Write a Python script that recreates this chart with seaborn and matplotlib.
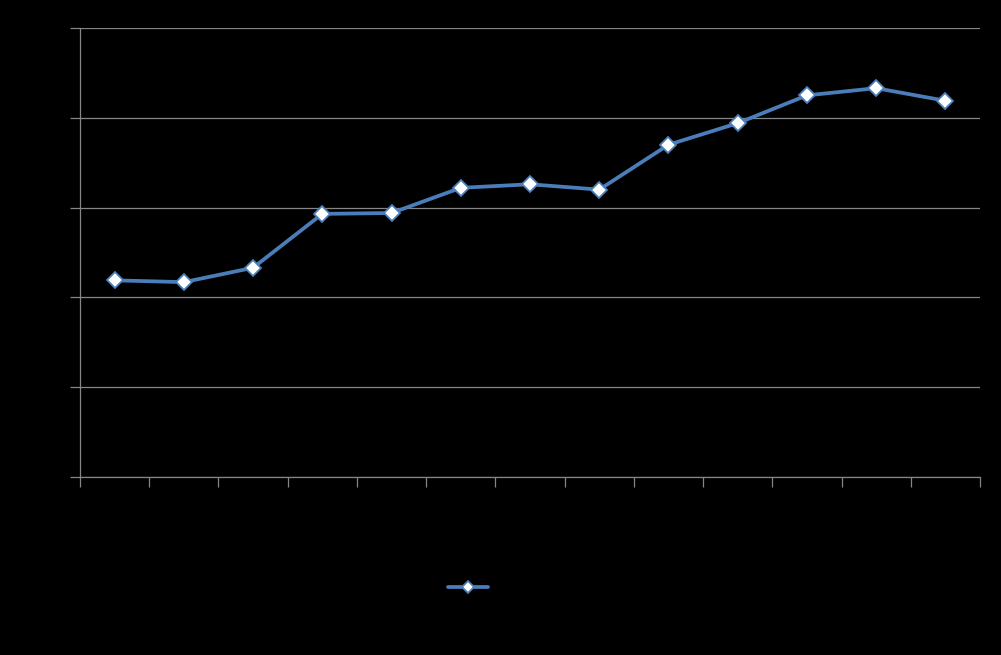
import matplotlib.pyplot as plt
import seaborn as sns
import pandas as pd
import numpy as np

# Values (axis 0-5, 13 categories; labels drawn black on black)
categories=[str(i) for i in range(1,14)]
values=[2.19,2.17,2.33,2.93,2.94,3.22,3.26,3.20,3.70,3.94,4.25,4.33,4.19]
series_name="Series1 data"

line_color="#4A7EBB"
grid_color="#868686"

sns.set_style("dark")
fig,ax=plt.subplots(figsize=(10.01,6.55),dpi=100)
fig.patch.set_facecolor("black")
ax.set_facecolor("black")
fig.subplots_adjust(left=80/1001,right=980/1001,top=1-28/655,bottom=1-477/655)

df=pd.DataFrame({"x":np.arange(len(categories)),"value":values})
sns.lineplot(data=df,x="x",y="value",ax=ax,color=line_color,linewidth=2.7,
	marker="D",markersize=8,markerfacecolor="white",markeredgecolor=line_color,
	markeredgewidth=1.3,label=series_name)

# Axis limits and ticks
ax.set_xlim(-0.5,len(categories)-0.5)
ax.set_ylim(0,5)
ax.set_xticks(np.arange(-0.5,len(categories),1.0))
ax.set_xticklabels([])
ax.set_yticks(np.arange(0,5.01,1))
ax.set_yticklabels([])
ax.set_xlabel("")
ax.set_ylabel("")

# Grid only horizontal
ax.grid(False)
ax.yaxis.grid(True,color=grid_color,linewidth=0.9)
ax.set_axisbelow(True)
for side in ["top","right"]:
	ax.spines[side].set_visible(False)
for side in ["left","bottom"]:
	ax.spines[side].set_visible(True)
	ax.spines[side].set_color(grid_color)
	ax.spines[side].set_linewidth(0.9)
ax.tick_params(axis="both",which="both",direction="out",length=7,width=0.9,
	color=grid_color,left=True,bottom=True,labelcolor="black")

# Legend centered below the plot (text black on black)
leg=ax.legend(loc="center",bbox_to_anchor=(0.4856,-0.2475),frameon=False,
	handlelength=2.85,fontsize=10,markerscale=0.8)
for t in leg.get_texts():
	t.set_color("black")

fig.savefig("out.png",dpi=100,facecolor="black")
